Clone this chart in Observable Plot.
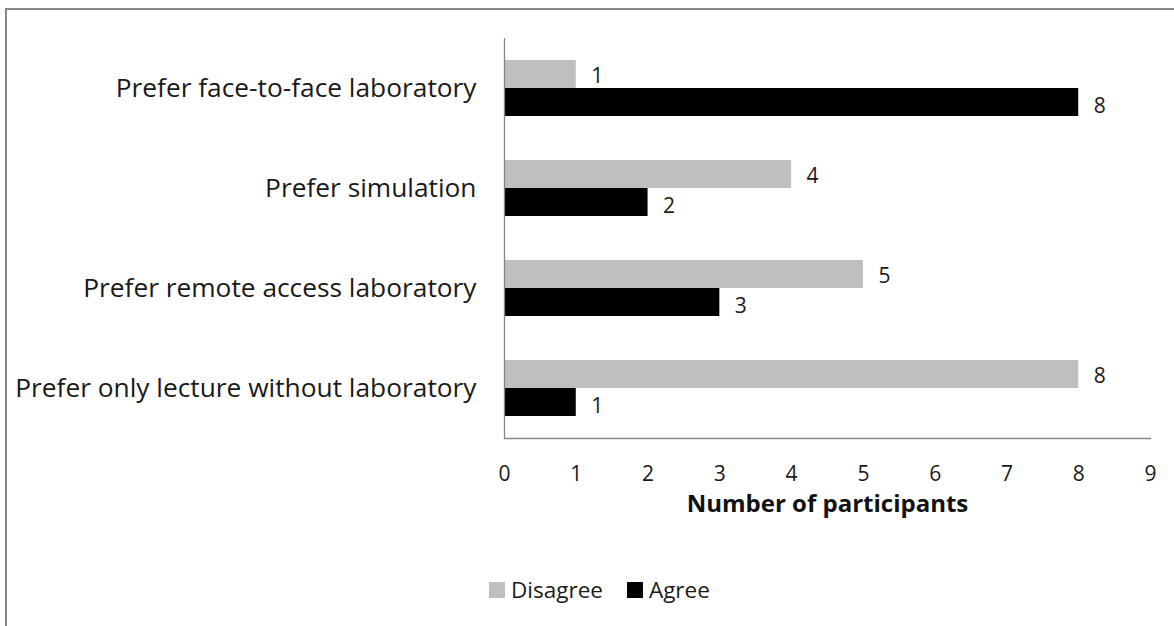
<!DOCTYPE html>
<html>
<head>
<meta charset="utf-8">
<script src="https://cdn.jsdelivr.net/npm/d3@7"></script>
<script src="https://cdn.jsdelivr.net/npm/@observablehq/plot@0.6"></script>
<style>
  html, body { margin: 0; padding: 0; background: #fff; overflow: hidden; }
  #wrap { position: relative; width: 1174px; height: 626px; overflow: hidden; font-family: "Open Sans", sans-serif; }
  #border { position: absolute; left: 5px; top: 8px; width: 1300px; height: 800px; border: 2px solid #878787; box-sizing: border-box; }
  #chart { position: absolute; left: 0; top: 0; }
  #legend { position: absolute; top: 575px; left: 489px; display: flex; align-items: center; font-size: 22.5px; color: #1a1a1a; line-height: 30px; }
  .sw { width: 16px; height: 16px; display: inline-block; margin-right: 6px; }
  .item { display: flex; align-items: center; margin-right: 24px; }
</style>
</head>
<body>
<div id="wrap">
  <div id="border"></div>
  <div id="chart"></div>
  <div id="legend"></div>
</div>
<script>
const categories = [
  "Prefer face-to-face laboratory",
  "Prefer simulation",
  "Prefer remote access laboratory",
  "Prefer only lecture without laboratory"
];
const series = ["Disagree", "Agree"];
const disagree = [1, 4, 5, 8];
const agree = [8, 2, 3, 1];
const xTicks = [0, 1, 2, 3, 4, 5, 6, 7, 8, 9];
const colors = {Disagree: "#bfbfbf", Agree: "#000000"};

const data = [];
categories.forEach((c, i) => {
  data.push({category: c, series: "Disagree", value: disagree[i]});
  data.push({category: c, series: "Agree", value: agree[i]});
});
const dis = data.filter(d => d.series === "Disagree");
const agr = data.filter(d => d.series === "Agree");

const chart = Plot.plot({
  width: 1174,
  height: 540,
  marginLeft: 504,
  marginRight: 24,
  marginTop: 38,
  marginBottom: 102,
  style: {fontFamily: "'Open Sans', sans-serif", color: "#1a1a1a", background: "transparent"},
  x: {domain: [0, 9], axis: null},
  y: {domain: categories, padding: 0, axis: null},
  marks: [
    Plot.barX(dis, {x: "value", y: "category", fill: colors.Disagree, insetTop: 22, insetBottom: 50}),
    Plot.barX(agr, {x: "value", y: "category", fill: colors.Agree, insetTop: 50, insetBottom: 22}),
    Plot.text(dis, {x: "value", y: "category", text: d => String(d.value), dx: 15, dy: -12, textAnchor: "start", fontSize: 21, fill: "#1a1a1a"}),
    Plot.text(agr, {x: "value", y: "category", text: d => String(d.value), dx: 15, dy: 18, textAnchor: "start", fontSize: 21, fill: "#1a1a1a"}),
    Plot.ruleX([0], {stroke: "#878787", strokeWidth: 1.3}),
    Plot.frame({anchor: "bottom", stroke: "#878787", strokeWidth: 1.3}),
    Plot.axisY({tickSize: 0, tickPadding: 28, fontSize: 26.3, label: null}),
    Plot.axisX({ticks: xTicks, tickSize: 0, tickPadding: 28, fontSize: 21, label: null}),
    Plot.text(["Number of participants"], {frameAnchor: "bottom", dy: 73, fontSize: 24, fontWeight: "bold", fill: "#111"})
  ]
});
document.getElementById("chart").appendChild(chart);

const legend = document.getElementById("legend");
series.forEach(s => {
  const it = document.createElement("div");
  it.className = "item";
  const sw = document.createElement("span");
  sw.className = "sw";
  sw.style.background = colors[s];
  const t = document.createElement("span");
  t.textContent = s;
  it.appendChild(sw);
  it.appendChild(t);
  legend.appendChild(it);
});
</script>
</body>
</html>
